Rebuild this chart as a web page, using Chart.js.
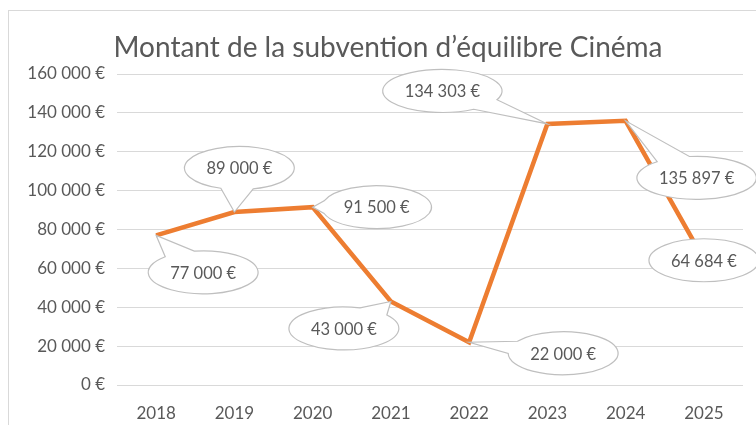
<!DOCTYPE html>
<html lang="fr">
<head>
<meta charset="utf-8">
<script src="https://cdn.jsdelivr.net/npm/chart.js@4.4.0/dist/chart.umd.min.js"></script>
<style>
  html, body { margin: 0; padding: 0; background: #fff; }
  #wrap { position: relative; width: 756px; height: 425px; overflow: hidden; }
  #frame { position: absolute; left: 8px; top: 10px; width: 800px; height: 500px;
           border: 1px solid #d9d9d9; box-sizing: border-box; }
  #chart { position: absolute; left: 0; top: 0; }
</style>
</head>
<body>
<div id="wrap">
  <div id="frame"></div>
  <canvas id="chart" width="756" height="425"></canvas>
</div>
<script>
// ----------- Data -----------
const years = ['2018', '2019', '2020', '2021', '2022', '2023', '2024', '2025'];
const amounts = [77000, 89000, 91500, 43000, 22000, 134303, 135897, 64684];
const yMin = 0;
const yMax = 160000;
const yStep = 20000;
const chartTitle = 'Montant de la subvention d’équilibre Cinéma';

// bubble centre offset from its point (px)
const bubbleOffsets = [[47, 37], [5, -44], [64, 0], [-47, 27], [94, 11], [-105, -33], [71, 57], [0, 1]];

const textColor = '#595959';
const fontFamily = 'Lato, "Open Sans", sans-serif';

function euro(v) {
    return String(v).replace(/\B(?=(\d{3})+(?!\d))/g, ' ') + ' €';
}

// ----------- Title (centred on the frame, not the canvas) -----------
const titlePlugin = {
    id: 'frameTitle',
    afterDraw(chart) {
        const ctx = chart.ctx;
        ctx.save();
        ctx.font = '28px ' + fontFamily;
        ctx.fillStyle = textColor;
        ctx.textAlign = 'center';
        ctx.textBaseline = 'middle';
        ctx.fillText(chartTitle, 388, 48);
        ctx.restore();
    }
};

// ----------- Callout bubbles -----------
const calloutPlugin = {
    id: 'callouts',
    afterDatasetsDraw(chart) {
        const ctx = chart.ctx;
        const pts = chart.getDatasetMeta(0).data;
        ctx.save();
        ctx.font = '16.5px ' + fontFamily;
        pts.forEach((p, i) => {
            const label = euro(amounts[i]);
            const tw = ctx.measureText(label).width;
            const cx = p.x + bubbleOffsets[i][0];
            const cy = p.y + bubbleOffsets[i][1];
            const rx = tw / 2 + 22, ry = 21.5;
            const nx = (p.x - cx) / rx, ny = (p.y - cy) / ry;
            ctx.beginPath();
            if (nx * nx + ny * ny > 1) {
                const a = Math.atan2(ny, nx);
                ctx.ellipse(cx, cy, rx, ry, 0, a + 0.3, a - 0.3 + Math.PI * 2);
                ctx.lineTo(p.x, p.y);
                ctx.closePath();
            } else {
                ctx.ellipse(cx, cy, rx, ry, 0, 0, Math.PI * 2);
            }
            ctx.fillStyle = '#fff';
            ctx.fill();
            ctx.strokeStyle = '#bfbfbf';
            ctx.lineWidth = 1.2;
            ctx.stroke();
            ctx.fillStyle = textColor;
            ctx.textAlign = 'center';
            ctx.textBaseline = 'middle';
            ctx.fillText(label, cx, cy + 1);
        });
        ctx.restore();
    }
};

// ----------- Chart -----------
const ctx = document.getElementById('chart').getContext('2d');
new Chart(ctx, {
    type: 'line',
    data: {
        labels: years,
        datasets: [{
            data: amounts,
            borderColor: '#ed7d31',
            borderWidth: 4.5,
            tension: 0,
            pointRadius: 0,
            fill: false
        }]
    },
    options: {
        responsive: false,
        animation: false,
        layout: { padding: { left: 0, right: 13, top: 74, bottom: 0 } },
        plugins: {
            legend: { display: false },
            tooltip: { enabled: false },
            title: { display: false }
        },
        scales: {
            x: {
                offset: true,
                grid: { display: false },
                border: { display: false },
                ticks: { color: textColor, font: { family: fontFamily, size: 17 }, padding: 10 },
                afterFit: scale => { scale.height = 40; }
            },
            y: {
                min: yMin,
                max: yMax,
                grid: { color: '#d9d9d9', lineWidth: 1, drawTicks: false },
                border: { display: false },
                ticks: {
                    stepSize: yStep,
                    color: textColor,
                    font: { family: fontFamily, size: 17 },
                    padding: 12,
                    callback: v => euro(v)
                },
                afterFit: scale => { scale.width = 117; }
            }
        }
    },
    plugins: [calloutPlugin, titlePlugin]
});
</script>
</body>
</html>
